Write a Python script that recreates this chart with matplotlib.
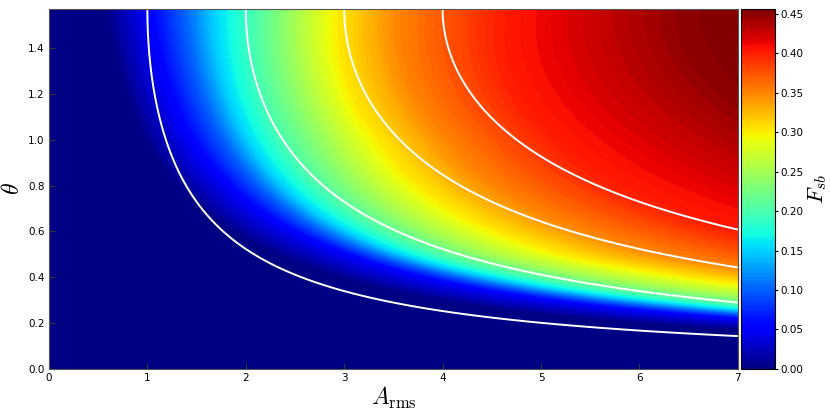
import numpy as np
import matplotlib
matplotlib.use('Agg')
import matplotlib.pyplot as plt

plt.rcParams['mathtext.fontset'] = 'cm'
plt.rcParams['xtick.direction'] = 'in'
plt.rcParams['ytick.direction'] = 'in'

# F_sb levels and the value of A_rms*sin(theta) where each level is reached,
# read off the picture along a few rows of theta
f_levels = [0.0, 0.05, 0.10, 0.15, 0.20, 0.25, 0.30, 0.35, 0.40, 0.45, 0.456]
theta_rows = [0.15, 0.5, 1.0, 1.571]
x_cross_015 = [1.20, 1.55, 1.70, 1.82, 1.97, 2.25, 2.65, 3.10, 3.90, 6.50, 7.00]
x_cross_050 = [1.10, 1.45, 1.60, 1.72, 1.90, 2.15, 2.50, 3.00, 3.85, 6.50, 7.00]
x_cross_100 = [0.80, 1.20, 1.50, 1.70, 2.00, 2.40, 2.80, 3.40, 4.30, 6.45, 7.00]
x_cross_157 = [0.55, 1.00, 1.38, 1.68, 2.10, 2.50, 2.93, 3.55, 4.60, 6.45, 7.00]

contour_levels = [1, 2, 3, 4]   # white lines: A_rms*sin(theta) = const
cbar_ticks = [0.00, 0.05, 0.10, 0.15, 0.20, 0.25, 0.30, 0.35, 0.40, 0.45]

a_max = 7.0
a = np.linspace(0, a_max, 420)
th = np.linspace(0, np.pi / 2, 320)
A, TH = np.meshgrid(a, th)
X = A * np.sin(TH)

cross_table = np.array([x_cross_015, x_cross_050, x_cross_100, x_cross_157])
F = np.zeros_like(X)
for i, t in enumerate(th):
    row_cross = [np.interp(t, theta_rows, cross_table[:, k]) for k in range(len(f_levels))]
    F[i] = np.interp(X[i], row_cross, f_levels, left=0.0, right=f_levels[-1])

fig = plt.figure(figsize=(8.3, 4.15), dpi=100)
ax = fig.add_axes([0.059, 0.111, 0.830, 0.867])
cax = fig.add_axes([0.893, 0.111, 0.041, 0.867])

cs = ax.contourf(A, TH, F, levels=np.linspace(0, 0.456, 110), cmap='jet',
                 vmin=0, vmax=0.456)
ax.contour(A, TH, X, levels=contour_levels, colors='white', linewidths=1.4)

ax.set_xlim(0, a_max)
ax.set_ylim(0, np.pi / 2)
ax.set_xticks(range(8))
ax.set_yticks(np.arange(0, 1.41, 0.2))
ax.set_yticklabels(['%.1f' % v for v in np.arange(0, 1.41, 0.2)])
ax.tick_params(labelsize=7.5, length=4, color='#333333', pad=3)
for s in ax.spines.values():
    s.set_color('#555555')
ax.set_xlabel(r'$A_{\rm rms}$', fontsize=17, labelpad=1)
ax.set_ylabel(r'$\theta$', fontsize=17)
ax.yaxis.set_label_coords(-0.036, 0.5)

cb = fig.colorbar(cs, cax=cax, ticks=cbar_ticks)
cb.ax.set_yticklabels(['%.2f' % v for v in cbar_ticks])
cb.ax.tick_params(labelsize=7.5, direction='out', length=2, pad=2)
cb.set_label(r'$F_{sb}$', fontsize=16)
cb.ax.yaxis.set_label_coords(1.9, 0.5)

fig.savefig('out.png', dpi=100)
